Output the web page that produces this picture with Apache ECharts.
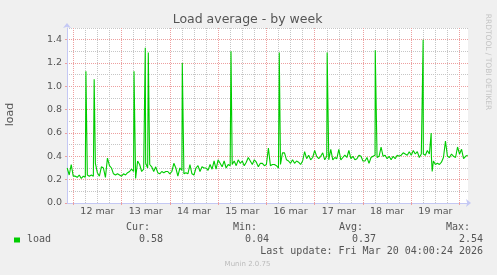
<!DOCTYPE html>
<html><head><meta charset="utf-8">
<script src="https://cdn.jsdelivr.net/npm/echarts@6/dist/echarts.min.js"></script>
<style>html,body{margin:0;padding:0;background:#f0f0f0;}#c{width:497px;height:275px;}</style>
</head><body><div id="c"></div>
<script>
// hours are counted from 12 Mar 00:00
const loadStartHour = -3;
const loadValues = [
0.30,0.24,0.33,
0.23,0.23,0.22,0.24,0.21,0.23,0.22,0.24,0.23,0.24,0.23,0.34,0.26,0.23,0.31,0.30,0.22,0.385,0.32,0.30,0.25,0.24,0.25,0.24,
0.23,0.25,0.24,0.26,0.27,0.29,0.27,0.21,0.36,0.33,0.27,0.29,0.34,0.30,0.33,0.31,0.27,0.31,0.26,0.25,0.27,0.26,0.27,0.27,
0.25,0.27,0.34,0.30,0.23,0.30,0.28,0.25,0.26,0.25,0.33,0.25,0.24,0.30,0.32,0.27,0.31,0.30,0.30,0.28,0.33,0.29,0.36,0.29,
0.37,0.34,0.31,0.36,0.30,0.33,0.32,0.33,0.36,0.32,0.37,0.34,0.36,0.32,0.35,0.39,0.36,0.33,0.37,0.35,0.31,0.34,0.34,0.32,
0.33,0.47,0.32,0.33,0.33,0.32,0.30,0.33,0.43,0.43,0.37,0.36,0.34,0.37,0.34,0.36,0.35,0.33,0.36,0.44,0.38,0.41,0.37,0.39,
0.45,0.40,0.38,0.40,0.43,0.37,0.40,0.37,0.46,0.37,0.39,0.38,0.46,0.37,0.39,0.41,0.39,0.45,0.38,0.40,0.37,0.38,0.41,0.40,
0.36,0.36,0.39,0.34,0.39,0.40,0.41,0.39,0.40,0.48,0.40,0.41,0.38,0.40,0.37,0.40,0.38,0.41,0.40,0.41,0.43,0.42,0.41,0.44,
0.41,0.45,0.42,0.44,0.39,0.42,0.42,0.41,0.45,0.42,0.40,0.36,0.33,0.34,0.33,0.35,0.39,0.53,0.40,0.39,0.42,0.40,0.39,0.48,
0.42,0.46,0.38,0.40,0.41
];
const loadPeaks = [[6.3,1.13],[10.4,1.06],[30.2,1.13],[35.8,1.33],[37.3,1.29],[54.2,1.20],[78.4,1.30],[102.4,1.29],[126.2,1.29],[150.1,1.31],[173.9,1.40],[177.9,0.60],[178.4,0.27]];
const dayLabels = ['12 mar','13 mar','14 mar','15 mar','16 mar','17 mar','18 mar','19 mar'];
const dayLabelHours = [12,36,60,84,108,132,156,180];
const dayTickHours = [0,24,48,72,96,120,144,168,192];
const quarterTickHours = [6,12,18,30,36,42,54,60,66,78,84,90,102,108,114,126,132,138,150,156,162,174,180,186];
const yMajorTicks = [0,0.2,0.4,0.6,0.8,1.0,1.2,1.4];
const yMinorTicks = [0.1,0.3,0.5,0.7,0.9,1.1,1.3,1.5];
const statHeaders = ['Cur:','Min:','Avg:','Max:'];
const statValues = ['0.58','0.04','0.37','2.54'];
const lastUpdate = 'Last update: Fri Mar 20 04:00:24 2026';

const points = loadValues.map((v,i)=>[loadStartHour+i,v]).concat(loadPeaks).sort((a,b)=>a[0]-b[0]);
const GRAY = '#c6c6c6';
const RED = '#eda0a0';
const AXIS = '#c4c8f4';
const TXT = '#555';
const X_MIN = -3.1, X_MAX = 196.2, Y_MIN = 0, Y_MAX = 1.5;

const chart = echarts.init(document.getElementById('c'));
const mono = '10px "DejaVu Sans Mono"';
const colRight = [150,257,363,470];
const valRight = [163,269,376,483];
const graphics = [
  {type:'text',x:247.5,y:19.5,style:{text:'Load average - by week',fill:TXT,font:'12.5px "DejaVu Sans"',align:'center',verticalAlign:'middle'}},
  {type:'text',x:10.5,y:114.5,rotation:Math.PI/2,style:{text:'load',fill:TXT,font:'11px "DejaVu Sans"',align:'center',verticalAlign:'middle'}},
  {type:'text',x:488,y:62,rotation:-Math.PI/2,style:{text:'RRDTOOL / TOBI OETIKER',fill:'#c4c4c4',font:'7.5px "DejaVu Sans"',align:'center',verticalAlign:'middle'}},
  {type:'rect',shape:{x:14,y:237.5,width:6,height:5},style:{fill:'#00cc00'}},
  {type:'text',x:27,y:239.7,style:{text:'load',fill:TXT,font:mono,align:'left',verticalAlign:'middle'}},
  {type:'text',x:483,y:251.7,style:{text:lastUpdate,fill:TXT,font:mono,align:'right',verticalAlign:'middle'}},
  {type:'text',x:247.5,y:263.7,style:{text:'Munin 2.0.75',fill:'#bbb',font:'7px "DejaVu Sans"',align:'center',verticalAlign:'middle'}}
];
statHeaders.forEach((t,i)=>graphics.push({type:'text',x:colRight[i],y:227.7,style:{text:t,fill:TXT,font:mono,align:'right',verticalAlign:'middle'}}));
statValues.forEach((t,i)=>graphics.push({type:'text',x:valRight[i],y:239.7,style:{text:t,fill:TXT,font:mono,align:'right',verticalAlign:'middle'}}));

chart.setOption({
  animation:false,
  backgroundColor:'#f0f0f0',
  textStyle:{fontFamily:'DejaVu Sans'},
  grid:{left:67,right:29,top:28,bottom:72,show:true,backgroundColor:'#fff',borderWidth:0},
  xAxis:[
    {type:'value',min:X_MIN,max:X_MAX,position:'bottom',z:0,
     axisLine:{show:false},axisTick:{show:false,customValues:quarterTickHours},axisLabel:{show:false},
     splitLine:{show:true,lineStyle:{color:GRAY,type:[1,1],width:1}}},
    {type:'value',min:X_MIN,max:X_MAX,position:'bottom',z:1,
     axisLine:{show:true,onZero:false,lineStyle:{color:AXIS,width:1},symbol:['none','arrow'],symbolSize:[6,5],symbolOffset:[0,3]},
     axisTick:{show:true,customValues:dayTickHours,length:2,lineStyle:{color:RED}},
     axisLabel:{customValues:dayLabelHours,formatter:v=>dayLabels[Math.round((v-12)/24)],color:TXT,fontSize:9.5,margin:4,fontFamily:'DejaVu Sans'},
     splitLine:{show:true,lineStyle:{color:RED,type:[1,1],width:1}}}
  ],
  yAxis:[
    {type:'value',min:Y_MIN,max:Y_MAX,position:'left',z:0,
     axisLine:{show:false},axisTick:{show:false,customValues:yMinorTicks},axisLabel:{show:false},
     splitLine:{show:true,lineStyle:{color:GRAY,type:[1,1],width:1}}},
    {type:'value',min:Y_MIN,max:Y_MAX,position:'left',z:1,
     axisLine:{show:true,onZero:false,lineStyle:{color:AXIS,width:1},symbol:['none','arrow'],symbolSize:[6,5],symbolOffset:[0,5]},
     axisTick:{show:true,customValues:yMajorTicks,length:2,lineStyle:{color:RED}},
     axisLabel:{customValues:yMajorTicks,formatter:v=>v.toFixed(1),color:TXT,fontSize:9.5,margin:5,fontFamily:'DejaVu Sans'},
     splitLine:{show:true,lineStyle:{color:RED,type:[1,1],width:1}}}
  ],
  series:[
    {type:'line',xAxisIndex:1,yAxisIndex:1,z:3,data:points,showSymbol:false,symbol:'none',lineStyle:{color:'#00cc00',width:1.1},itemStyle:{color:'#00cc00'}}
  ],
  graphic:graphics
});
</script></body></html>
